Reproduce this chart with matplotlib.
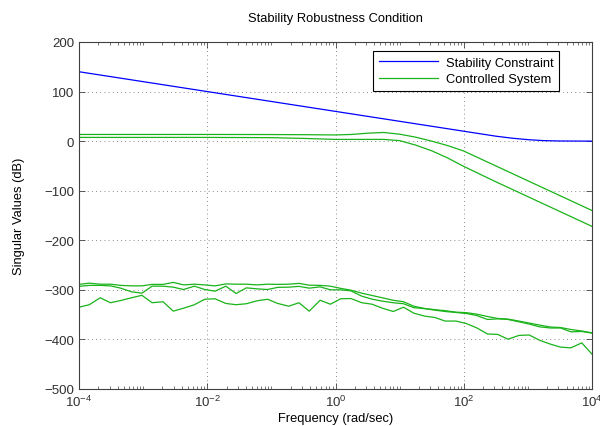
import numpy as np
import matplotlib
matplotlib.use("Agg")
import matplotlib.pyplot as plt
from matplotlib.ticker import FixedLocator, LogLocator, NullFormatter

plt.rcParams["font.family"] = ["Liberation Sans", "DejaVu Sans"]
plt.rcParams["mathtext.fontset"] = "custom"
plt.rcParams["mathtext.rm"] = "Liberation Sans"
plt.rcParams["mathtext.it"] = "Liberation Sans"

# Weighting bound (dB) vs log10 frequency
logwBound = [-4, -3, -2, -1, 0, 1, 2, 2.25, 2.5, 2.75, 3, 3.25, 3.5, 4]
dbBound   = [140, 120, 100, 80, 60, 40, 20, 15, 10, 6, 3, 1, 0.3, 0]

# Two largest singular values of the closed loop
logwSys  = [-4, -3, -2, -1, -0.5, 0, 0.25, 0.5, 0.75, 1.0, 1.25, 1.5, 1.75, 2.0, 2.5, 3, 3.5, 4]
dbSys1   = [13.5, 13.5, 13.5, 13.3, 13, 12.5, 13.5, 16, 17.5, 14, 8, 0, -9, -20, -50, -80, -110, -140]
dbSys2   = [7.5, 7.5, 7.5, 7, 5.5, 3.5, 3.5, 3.5, 3.5, 1, -8, -19.5, -34, -51, -82, -112, -142, -172]

# Remaining (numerically small) singular values on the 50-point grid
logwGrid = [-4.00, -3.84, -3.67, -3.51, -3.35, -3.18, -3.02, -2.86, -2.69, -2.53,
            -2.37, -2.20, -2.04, -1.88, -1.71, -1.55, -1.39, -1.22, -1.06, -0.90,
            -0.73, -0.57, -0.41, -0.24, -0.08, 0.08, 0.24, 0.41, 0.57, 0.73,
            0.90, 1.06, 1.22, 1.39, 1.55, 1.71, 1.88, 2.04, 2.20, 2.37,
            2.53, 2.69, 2.86, 3.02, 3.18, 3.35, 3.51, 3.67, 3.84, 4.00]
dbSys3 = [-289, -286.5, -288.6, -288.6, -291, -292, -292, -289, -289, -285,
          -290, -288.6, -290, -292, -288, -288.6, -288.6, -290, -288.6, -289,
          -288.6, -287, -290.6, -291, -292.6, -297, -300.7, -306.7, -311.4, -316,
          -321, -324, -333, -337.6, -340, -342, -345, -346, -349, -353.8,
          -357.8, -359, -363, -367, -371, -375, -376, -380, -383, -386.7]
dbSys4 = [-293, -291, -291, -292, -296.6, -304, -306.7, -292.6, -292.6, -294.6,
          -299.3, -292.6, -299.3, -302.7, -292.6, -307.4, -296, -298, -299.3, -295,
          -294.6, -293, -296.6, -294, -300, -300, -302, -312.8, -318.8, -322.8,
          -326, -328, -336, -338, -341, -343.7, -345.7, -347.7, -351.7, -359.8,
          -358.5, -359.8, -364.5, -369, -374.6, -377, -377, -384.7, -384, -387.4]
dbSys5 = [-335, -330, -316, -326, -321.5, -316, -311, -326, -324, -343,
          -337, -330, -319, -318, -327.5, -330, -328, -322, -319, -327.5,
          -333, -326, -343, -321, -329, -318, -317.5, -326, -329, -337,
          -343.7, -335, -347, -353, -355.8, -363, -363, -368, -376.6, -389,
          -390, -399.5, -392, -391, -401.5, -409.5, -415.6, -417, -407, -429.7]

blue = (0, 0, 1)
green = (0.1, 0.7, 0.1)
axisGray = "#404040"
textSize = 9.3

fig = plt.figure(figsize=(6, 4.27), dpi=100)
ax = fig.add_axes([0.1317, 0.0867, 0.855, 0.8126])

ax.semilogx(10 ** np.array(logwBound), dbBound, color=blue, linewidth=0.9,
            label="Stability Constraint")
ax.semilogx(10 ** np.array(logwSys), dbSys1, color=green, linewidth=0.9,
            label="Controlled System")
ax.semilogx(10 ** np.array(logwSys), dbSys2, color=green, linewidth=0.9)
for ys in (dbSys3, dbSys4, dbSys5):
    ax.semilogx(10 ** np.array(logwGrid), ys, color=green, linewidth=0.9)

ax.set_xlim(1e-4, 1e4)
ax.set_ylim(-500, 200)

ax.xaxis.set_major_locator(FixedLocator([1e-4, 1e-2, 1e0, 1e2, 1e4]))
ax.set_xticklabels([r"$10^{-4}$", r"$10^{-2}$", r"$10^{0}$", r"$10^{2}$", r"$10^{4}$"])
ax.xaxis.set_minor_locator(LogLocator(base=10, subs=np.arange(1, 10), numticks=40))
ax.xaxis.set_minor_formatter(NullFormatter())
ax.set_yticks(range(-500, 201, 100))
ax.set_yticklabels(["\u2212500", "\u2212400", "\u2212300", "\u2212200", "\u2212100", "0", "100", "200"])

ax.tick_params(which="both", direction="in", top=True, right=True,
               colors=axisGray, labelsize=9.5, labelcolor="#303030")
ax.tick_params(which="major", length=4, width=0.6)
ax.tick_params(which="minor", length=2, width=0.5)
for s in ax.spines.values():
    s.set_color(axisGray)
    s.set_linewidth(0.8)

ax.grid(True, which="major", linestyle=(0, (1, 4)), color="#666666", linewidth=0.6)

ax.set_title("Stability Robustness Condition", fontsize=textSize, pad=15)
ax.set_xlabel("Frequency (rad/sec)", fontsize=textSize, labelpad=2)
ax.set_ylabel("Singular Values (dB)", fontsize=textSize, labelpad=14)

leg = ax.legend(loc="upper right", bbox_to_anchor=(0.936, 0.974), borderaxespad=0,
                fontsize=textSize, frameon=True, fancybox=False, framealpha=1,
                edgecolor="black", handlelength=4.6, handletextpad=0.6,
                borderpad=0.45, labelspacing=0.35)
leg.get_frame().set_linewidth(0.8)

fig.savefig("out.png", dpi=100)
